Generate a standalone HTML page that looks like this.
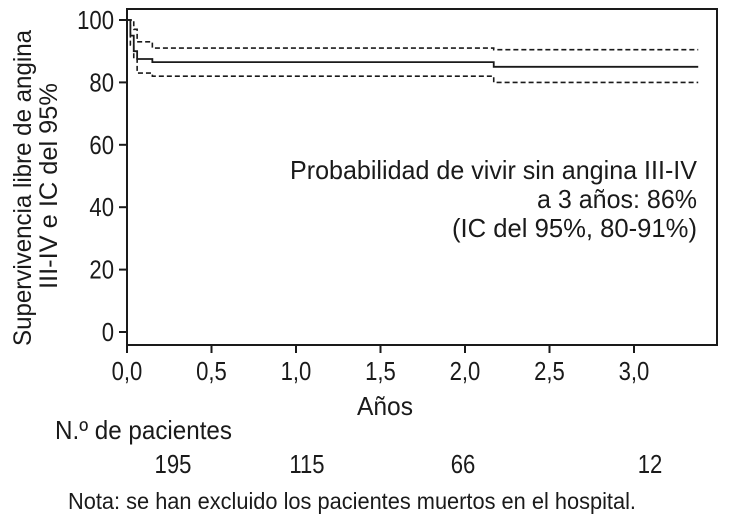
<!DOCTYPE html>
<html><head><meta charset="utf-8"><style>
html,body{margin:0;padding:0;background:#fff;width:730px;height:522px;overflow:hidden}
svg{display:block}
text{font-family:"Liberation Sans Narrow","Liberation Sans",sans-serif;fill:#1a1a1a}
</style></head><body>
<svg width="730" height="522" viewBox="0 0 730 522">
<g id="axes"></g>
<g id="curves"></g>
<g id="labels"></g>
</svg>
<script>
const yTicks=[0,20,40,60,80,100];
const xTicks=[0,0.5,1.0,1.5,2.0,2.5,3.0];
const xTickLabels=["0,0","0,5","1,0","1,5","2,0","2,5","3,0"];
const estTimes=[0,0.02,0.04,0.06,0.15,2.17,3.38];
const estValues=[100,95,90,87.5,86.5,85,85];
const upperTimes=[0,0.04,0.06,0.15,2.17,3.38];
const upperValues=[100,97,93,91,90.5,90.5];
const lowerTimes=[0,0.02,0.04,0.06,0.15,2.17,3.38];
const lowerValues=[100,92,88,83,82,80,80];
const riskTimes=[0,1,2,3];
const riskCounts=["195","115","66","12"];
const NS="http://www.w3.org/2000/svg";
const X=t=>127+t*169;
const Y=v=>332-v*3.12;
function mk(tag,attrs,parent){const e=document.createElementNS(NS,tag);for(const k in attrs)e.setAttribute(k,attrs[k]);parent.appendChild(e);return e;}
const ax=document.getElementById('axes');
let frame=mk('rect',{x:127,y:9,width:590,height:336,fill:'none',stroke:'#1a1a1a','stroke-width':2},ax);


yTicks.forEach(v=>{
  let l=mk('line',{x1:119,x2:127,y1:Y(v),y2:Y(v),stroke:'#1a1a1a','stroke-width':2},ax);
  
  
  let t=mk('text',{x:114,y:Y(v)+9,'text-anchor':'end','font-size':26,'data-sq':'0.85'},ax);
  t.textContent=v;
  
  
});
xTicks.forEach((v,i)=>{
  let l=mk('line',{x1:X(v),x2:X(v),y1:345,y2:353,stroke:'#1a1a1a','stroke-width':2},ax);
  
  
  let t=mk('text',{x:X(v),y:380,'text-anchor':'middle','font-size':26,'data-sq':'0.85'},ax);
  t.textContent=xTickLabels[i];
  
  
});
function step(ts,vs){let d='M'+X(ts[0])+','+Y(vs[0]);for(let i=1;i<ts.length;i++){d+=' H'+X(ts[i])+' V'+Y(vs[i]);}return d;}
const cv=document.getElementById('curves');
let pu=mk('path',{d:step(upperTimes,upperValues),fill:'none',stroke:'#1a1a1a','stroke-width':1.6,'stroke-dasharray':'5,3'},cv);


let pl=mk('path',{d:step(lowerTimes,lowerValues),fill:'none',stroke:'#1a1a1a','stroke-width':1.6,'stroke-dasharray':'5,3'},cv);


let pe=mk('path',{d:step(estTimes,estValues),fill:'none',stroke:'#1a1a1a','stroke-width':1.8},cv);


const lb=document.getElementById('labels');
riskTimes.forEach((t,i)=>{
  let e=mk('text',{x:[173,307,463,650][i],y:473,'text-anchor':'middle','font-size':26,'data-sq':'0.85'},lb);
  e.textContent=riskCounts[i];
  
  
});
</script>
<svg style="position:absolute;left:0;top:0" width="730" height="522">
<text transform="translate(31,188) rotate(-90)" text-anchor="middle" font-size="25" textLength="316" lengthAdjust="spacingAndGlyphs">Supervivencia libre de angina</text>
<text transform="translate(57,186) rotate(-90)" text-anchor="middle" font-size="25" textLength="206" lengthAdjust="spacingAndGlyphs">III-IV e IC del 95%</text>
<text x="697" y="179" text-anchor="end" font-size="26" textLength="407" lengthAdjust="spacingAndGlyphs">Probabilidad de vivir sin angina III-IV</text>
<text x="697" y="208" text-anchor="end" font-size="26" textLength="160" lengthAdjust="spacingAndGlyphs">a 3 años: 86%</text>
<text x="697" y="237" text-anchor="end" font-size="26" textLength="245" lengthAdjust="spacingAndGlyphs">(IC del 95%, 80-91%)</text>
<text x="385" y="415" text-anchor="middle" font-size="26" textLength="56" lengthAdjust="spacingAndGlyphs">Años</text>
<text x="55" y="439" font-size="26" textLength="177" lengthAdjust="spacingAndGlyphs">N.º de pacientes</text>
<text x="68" y="509" font-size="23" textLength="568" lengthAdjust="spacingAndGlyphs">Nota: se han excluido los pacientes muertos en el hospital.</text>
</svg>
<script>
document.querySelectorAll('text[data-sq]').forEach(t=>{
  const w=t.getComputedTextLength()*parseFloat(t.getAttribute('data-sq'));
  t.setAttribute('textLength',w.toFixed(1));
  t.setAttribute('lengthAdjust','spacingAndGlyphs');
});
</script>
</body></html>
